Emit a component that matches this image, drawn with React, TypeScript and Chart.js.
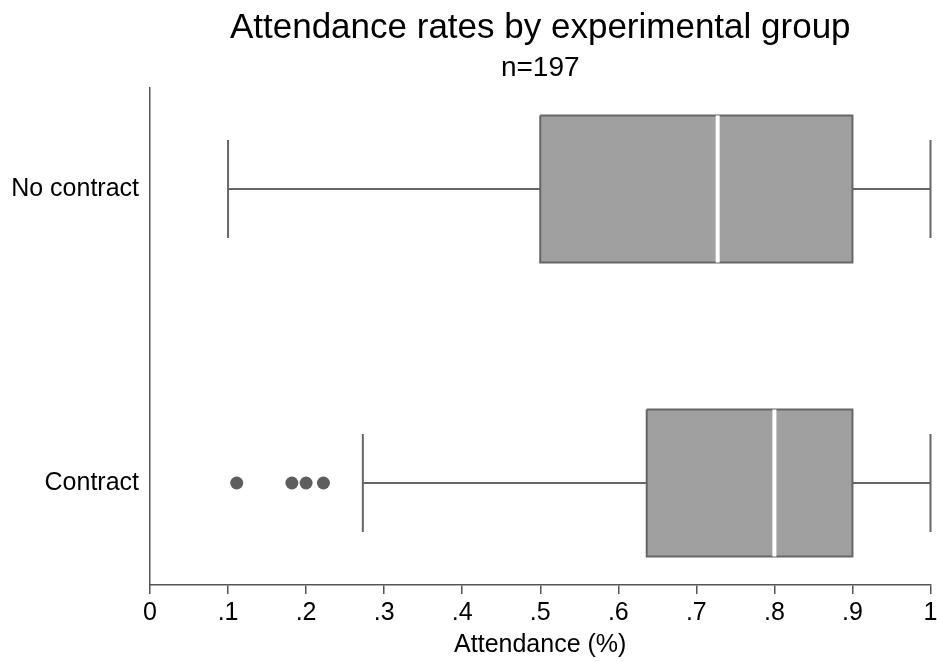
import React, { useEffect, useRef } from 'react';
import { Chart, registerables } from 'chart.js';

Chart.register(...registerables);

// ---- Data ----
const GROUPS = ['No contract', 'Contract'];
const WHISKER_LOW = [0.1, 0.2727];
const Q1 = [0.5, 0.6364];
const MEDIAN = [0.7273, 0.8];
const Q3 = [0.9, 0.9];
const WHISKER_HIGH = [1.0, 1.0];
const OUTLIERS: number[][] = [[], [0.1111, 0.1818, 0.2, 0.2222]];
const X_TICKS = [0, 0.1, 0.2, 0.3, 0.4, 0.5, 0.6, 0.7, 0.8, 0.9, 1];
const X_TICK_LABELS = ['0', '.1', '.2', '.3', '.4', '.5', '.6', '.7', '.8', '.9', '1'];
const TITLE = 'Attendance rates by experimental group';
const SUBTITLE = 'n=197';
const X_TITLE = 'Attendance (%)';

// ---- Geometry (in category units) ----
const BOX_HALF = 0.25;
const CAP_HALF = 0.1667;

const FONT = "'Liberation Sans', Arial, Helvetica, sans-serif";
const LINE_COLOR = '#666666';

export default function App() {
  const ref = useRef<HTMLCanvasElement | null>(null);

  useEffect(() => {
    if (!ref.current) return;

    const seg = (pts: { x: number; y: number }[], color: string, width: number, order: number) => ({
      type: 'scatter' as const,
      data: pts,
      showLine: true,
      borderColor: color,
      borderWidth: width,
      pointRadius: 0,
      pointHoverRadius: 0,
      fill: false,
      clip: false,
      order,
    });

    const datasets: any[] = [];

    // medians (top-most)
    GROUPS.forEach((_, i) => {
      datasets.push(seg([{ x: MEDIAN[i], y: i - BOX_HALF }, { x: MEDIAN[i], y: i + BOX_HALF }], '#ffffff', 4, 0));
    });

    // outliers
    datasets.push({
      type: 'scatter',
      data: OUTLIERS.flatMap((vals, i) => vals.map((v) => ({ x: v, y: i }))),
      pointRadius: 6.5,
      pointHoverRadius: 6.5,
      backgroundColor: '#5e5e5e',
      borderWidth: 0,
      clip: false,
      order: 1,
    });

    // boxes (closed shapes, filled)
    GROUPS.forEach((_, i) => {
      datasets.push({
        type: 'scatter',
        data: [
          { x: Q1[i], y: i - BOX_HALF },
          { x: Q3[i], y: i - BOX_HALF },
          { x: Q3[i], y: i + BOX_HALF },
          { x: Q1[i], y: i + BOX_HALF },
          { x: Q1[i], y: i - BOX_HALF },
        ],
        showLine: true,
        fill: 'shape',
        backgroundColor: '#a0a0a0',
        borderColor: LINE_COLOR,
        borderWidth: 2,
        borderJoinStyle: 'miter',
        pointRadius: 0,
        pointHoverRadius: 0,
        clip: false,
        order: 2,
      });
    });

    // whiskers and caps
    GROUPS.forEach((_, i) => {
      datasets.push(seg([{ x: WHISKER_LOW[i], y: i }, { x: Q1[i], y: i }], LINE_COLOR, 2, 3));
      datasets.push(seg([{ x: Q3[i], y: i }, { x: WHISKER_HIGH[i], y: i }], LINE_COLOR, 2, 3));
      datasets.push(seg([{ x: WHISKER_LOW[i], y: i - CAP_HALF }, { x: WHISKER_LOW[i], y: i + CAP_HALF }], LINE_COLOR, 2, 3));
      datasets.push(seg([{ x: WHISKER_HIGH[i], y: i - CAP_HALF }, { x: WHISKER_HIGH[i], y: i + CAP_HALF }], LINE_COLOR, 2, 3));
    });

    const chart = new Chart(ref.current, {
      type: 'scatter',
      data: { datasets },
      options: {
        animation: false,
        responsive: false,
        events: [],
        layout: { padding: { top: 0, left: 0, right: 0, bottom: 0 } },
        plugins: {
          legend: { display: false },
          tooltip: { enabled: false },
          title: {
            display: true,
            text: TITLE,
            fullSize: false,
            color: '#000',
            font: { family: FONT, size: 35, weight: 'normal', lineHeight: 1.2 },
            padding: { top: 7, bottom: 0 },
          },
          subtitle: {
            display: true,
            text: SUBTITLE,
            fullSize: false,
            color: '#000',
            font: { family: FONT, size: 28, weight: 'normal', lineHeight: 1.2 },
            padding: { top: 2, bottom: 3.4 },
          },
        },
        scales: {
          x: {
            type: 'linear',
            min: 0,
            max: 1,
            offset: false,
            afterBuildTicks: (scale: any) => {
              scale.ticks = X_TICKS.map((v) => ({ value: v }));
            },
            afterFit: (scale: any) => {
              scale.height = 77;
              scale.paddingRight = 5;
              scale.paddingLeft = 0;
            },
            ticks: {
              color: '#000',
              padding: 4,
              maxRotation: 0,
              autoSkip: false,
              font: { family: FONT, size: 25, lineHeight: 1.2 },
              callback: (_v: any, idx: number) => X_TICK_LABELS[idx],
            },
            grid: {
              display: true,
              drawOnChartArea: false,
              drawTicks: true,
              tickLength: 9,
              color: '#555',
              lineWidth: 1.5,
            },
            border: { display: true, color: '#555', width: 1.5 },
            title: {
              display: true,
              text: X_TITLE,
              color: '#000',
              font: { family: FONT, size: 25, lineHeight: 1.2 },
              padding: { top: 0, bottom: 2 },
            },
          },
          y: {
            type: 'linear',
            reverse: true,
            offset: false,
            grace: 0,
            min: -0.3435,
            max: 1.347,
            afterBuildTicks: (scale: any) => {
              scale.ticks = GROUPS.map((_, i) => ({ value: i }));
            },
            afterFit: (scale: any) => {
              scale.width = 150;
            },
            ticks: {
              color: '#000',
              padding: 11,
              autoSkip: false,
              font: { family: FONT, size: 25, lineHeight: 1.2 },
              callback: (v: any) => GROUPS[Math.round(Number(v))],
            },
            grid: { display: false, drawTicks: false },
            border: { display: true, color: '#555', width: 1.5 },
          },
        },
      } as any,
    });

    return () => chart.destroy();
  }, []);

  return (
    <div style={{ position: 'absolute', left: 0, top: 0, width: 937, height: 662, background: '#fff' }}>
      <canvas ref={ref} width={937} height={662} style={{ display: 'block' }} />
    </div>
  );
}
